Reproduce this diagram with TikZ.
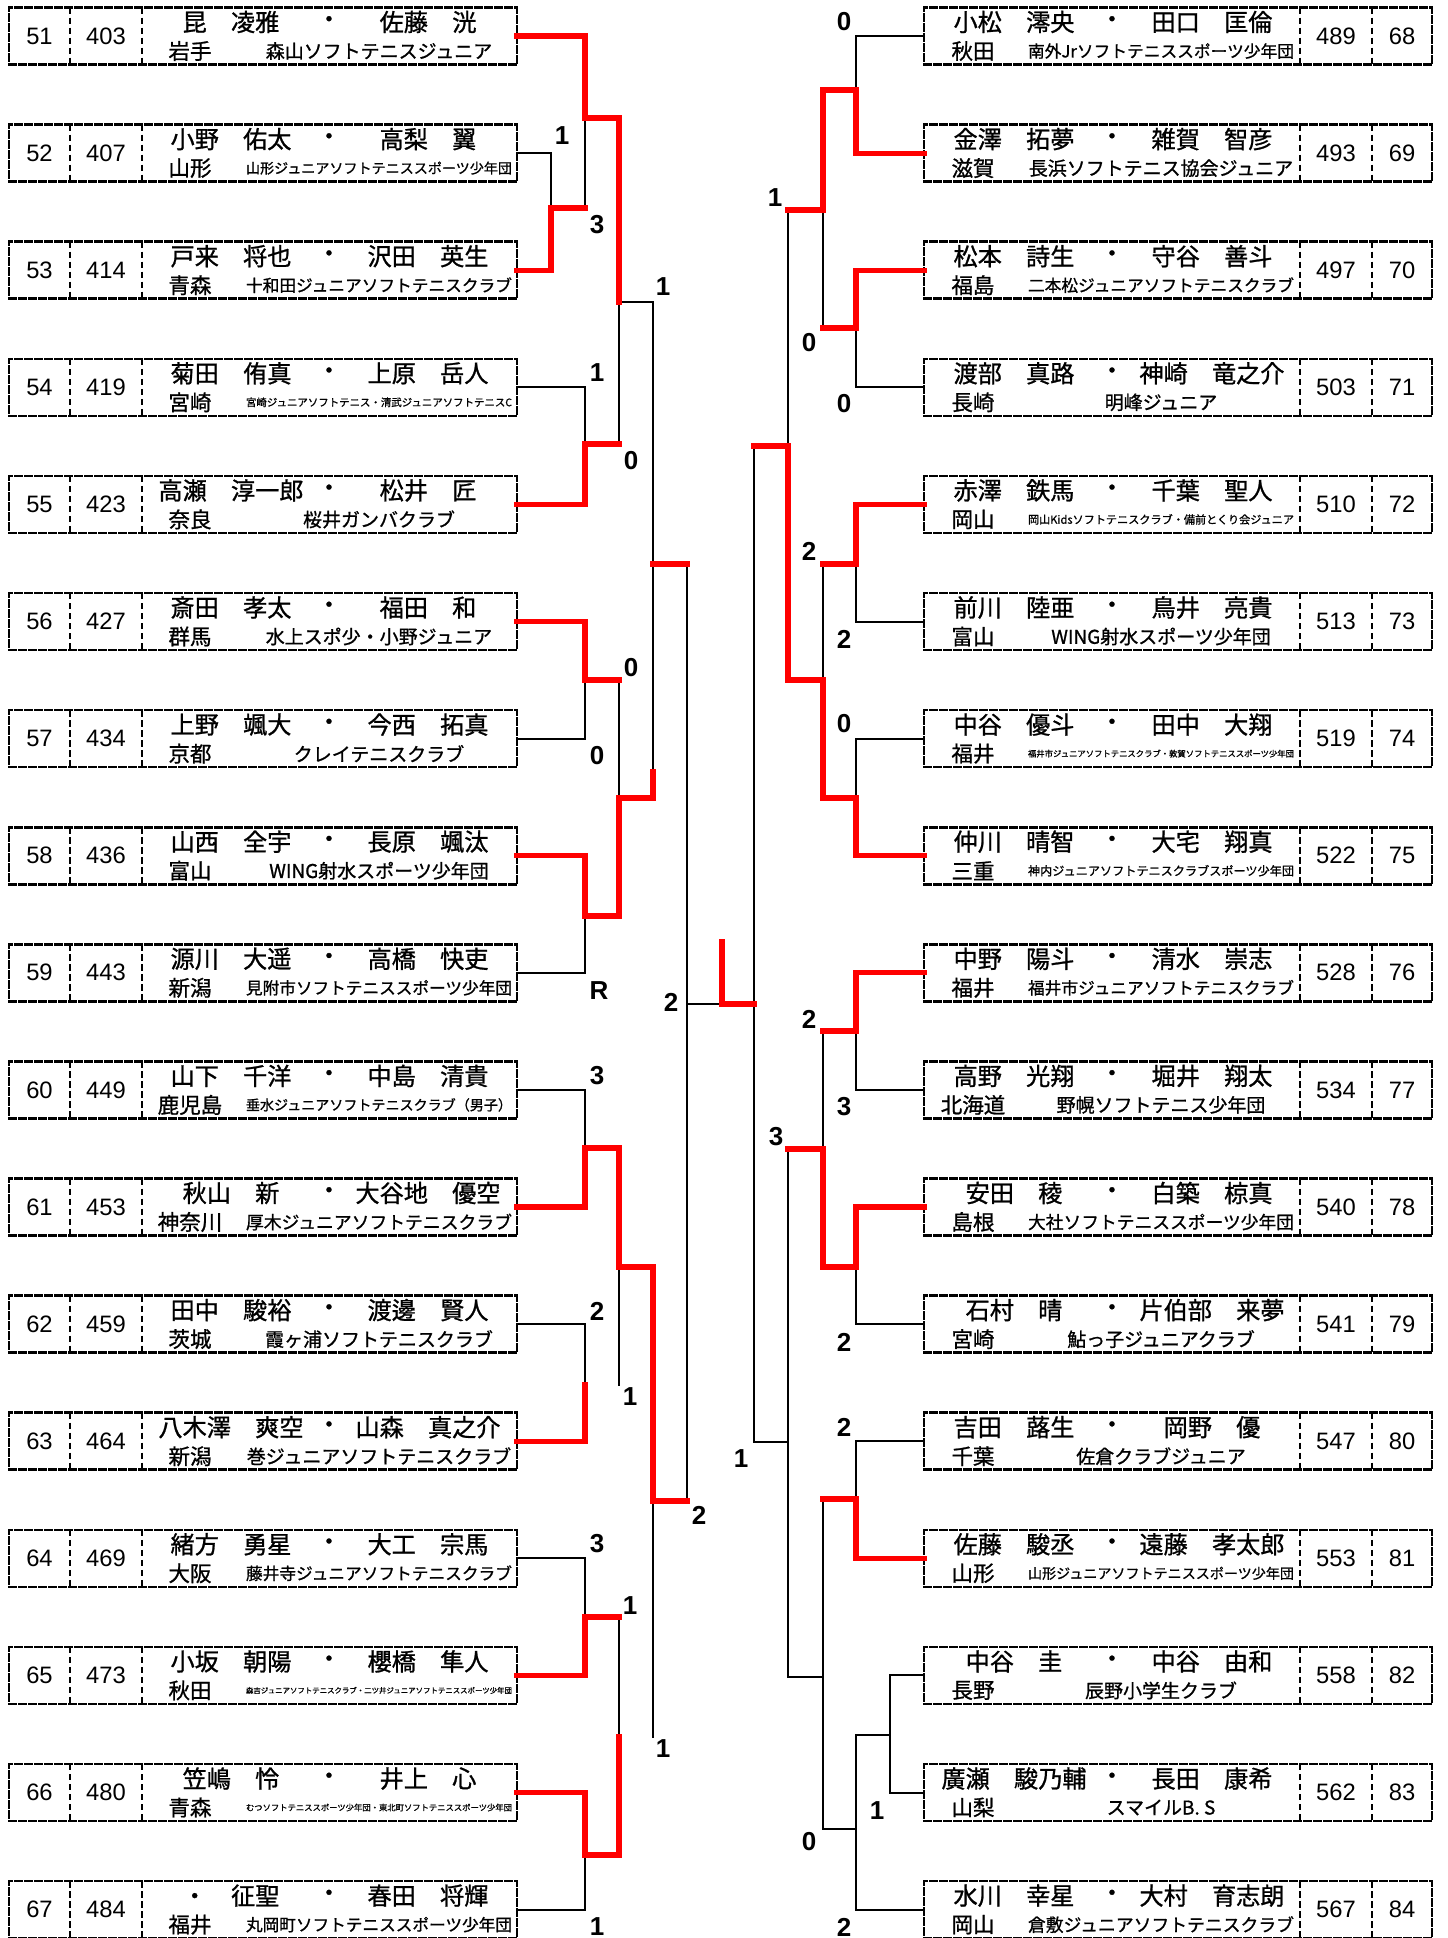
\documentclass[tikz,border=0pt]{standalone}
\usepackage{fontspec}
\usepackage{graphicx}
\setmainfont{Liberation Sans}
\newfontfamily\jp[FakeBold=1]{Noto Sans CJK JP}
\definecolor{winred}{RGB}{255,0,0}

% club names shrink to fit their field
\newsavebox\clubsb
\newdimen\clubmax \clubmax=66.5mm
\newcommand{\fitclub}[1]{\sbox\clubsb{\jp\fontsize{13.5pt}{14pt}\selectfont #1}%
  \ifdim\wd\clubsb>\clubmax\resizebox{\clubmax}{!}{\usebox\clubsb}\else\usebox\clubsb\fi}

% left entry: seed, y, id, player 1, player 2, prefecture, club
\newcommand{\lentry}[7]{%
  \node[entry] (b#1) at (263,#2) {};
  \draw[rim] ([xshift=15.25mm]b#1.north west) -- ([xshift=15.25mm]b#1.south west);
  \draw[rim] ([xshift=33.25mm]b#1.north west) -- ([xshift=33.25mm]b#1.south west);
  \node[num] (s#1) at (39.5,#2) {#1};
  \node[num] (i#1) at (106,#2) {#3};
  \node[nm] (a#1) at (231,#2-14) {#4};
  \node[nm] (d#1) at (329,#2-14) {・};
  \node[nm] (z#1) at (428,#2-14) {#5};
  \node[pref] (f#1) at (190,#2+15) {#6};
  \node[inner sep=0pt] (c#1) at (379,#2+15) {\fitclub{#7}};}

% right entry: seed, y, id, player 1, player 2, prefecture, club
\newcommand{\rentry}[7]{%
  \node[entry] (b#1) at (1178,#2) {};
  \draw[rim] ([xshift=94mm]b#1.north west) -- ([xshift=94mm]b#1.south west);
  \draw[rim] ([xshift=112mm]b#1.north west) -- ([xshift=112mm]b#1.south west);
  \node[num] (s#1) at (1402,#2) {#1};
  \node[num] (i#1) at (1336,#2) {#3};
  \node[nm] (a#1) at (1014,#2-14) {#4};
  \node[nm] (d#1) at (1112,#2-14) {・};
  \node[nm] (z#1) at (1212,#2-14) {#5};
  \node[pref] (f#1) at (973,#2+15) {#6};
  \node[inner sep=0pt] (c#1) at (1161,#2+15) {\fitclub{#7}};}

\begin{document}
\begin{tikzpicture}[x=0.25mm,y=-0.25mm,line cap=rect,
  entry/.style={draw,line width=0.65mm,dash pattern=on 1.6mm off 0.9mm,
                minimum width=127mm,minimum height=14.25mm,inner sep=0pt,outer sep=0pt},
  rim/.style={line width=0.65mm,dash pattern=on 1.6mm off 0.9mm,line cap=butt},
  lose/.style={line width=0.5mm},
  won/.style={draw=winred,line width=1.3mm},
  num/.style={font=\fontsize{16.9pt}{17pt}\selectfont,inner sep=0pt},
  nm/.style={font=\jp\fontsize{17.2pt}{18pt}\selectfont,inner sep=0pt},
  pref/.style={font=\jp\fontsize{15.3pt}{16pt}\selectfont,inner sep=0pt},
  score/.style={font=\fontsize{18.5pt}{19pt}\selectfont\bfseries,inner sep=0pt}]

  \useasboundingbox (0,0) rectangle (1448,1938);
  \clip (0,0) rectangle (1448,1938);

  % ---------- left column ----------
  \lentry{51}{36}{403}{昆　凌雅}{佐藤　洸}{岩手}{森山ソフトテニスジュニア}
  \lentry{52}{153.1}{407}{小野　佑太}{高梨　翼}{山形}{山形ジュニアソフトテニススポーツ少年団}
  \lentry{53}{270.2}{414}{戸来　将也}{沢田　英生}{青森}{十和田ジュニアソフトテニスクラブ}
  \lentry{54}{387.3}{419}{菊田　侑真}{上原　岳人}{宮崎}{宮崎ジュニアソフトテニス・清武ジュニアソフトテニスC}
  \lentry{55}{504.4}{423}{高瀬　淳一郎}{松井　匠}{奈良}{桜井ガンバクラブ}
  \lentry{56}{621.5}{427}{斎田　孝太}{福田　和}{群馬}{水上スポ少・小野ジュニア}
  \lentry{57}{738.6}{434}{上野　颯大}{今西　拓真}{京都}{クレイテニスクラブ}
  \lentry{58}{855.7}{436}{山西　全宇}{長原　颯汰}{富山}{WING射水スポーツ少年団}
  \lentry{59}{972.8}{443}{源川　大遥}{高橋　快吏}{新潟}{見附市ソフトテニススポーツ少年団}
  \lentry{60}{1089.9}{449}{山下　千洋}{中島　清貴}{鹿児島}{垂水ジュニアソフトテニスクラブ（男子）}
  \lentry{61}{1207}{453}{秋山　新}{大谷地　優空}{神奈川}{厚木ジュニアソフトテニスクラブ}
  \lentry{62}{1324.1}{459}{田中　駿裕}{渡邊　賢人}{茨城}{霞ヶ浦ソフトテニスクラブ}
  \lentry{63}{1441.2}{464}{八木澤　爽空}{山森　真之介}{新潟}{巻ジュニアソフトテニスクラブ}
  \lentry{64}{1558.3}{469}{緒方　勇星}{大工　宗馬}{大阪}{藤井寺ジュニアソフトテニスクラブ}
  \lentry{65}{1675.4}{473}{小坂　朝陽}{櫻橋　隼人}{秋田}{森吉ジュニアソフトテニスクラブ・二ツ井ジュニアソフトテニススポーツ少年団}
  \lentry{66}{1792.5}{480}{笠嶋　怜}{井上　心}{青森}{むつソフトテニススポーツ少年団・東北町ソフトテニススポーツ少年団}
  \lentry{67}{1909.6}{484}{・　征聖}{春田　将輝}{福井}{丸岡町ソフトテニススポーツ少年団}

  % ---------- right column ----------
  \rentry{68}{36}{489}{小松　澪央}{田口　匡倫}{秋田}{南外Jrソフトテニススポーツ少年団}
  \rentry{69}{153.1}{493}{金澤　拓夢}{雑賀　智彦}{滋賀}{長浜ソフトテニス協会ジュニア}
  \rentry{70}{270.2}{497}{松本　詩生}{守谷　善斗}{福島}{二本松ジュニアソフトテニスクラブ}
  \rentry{71}{387.3}{503}{渡部　真路}{神崎　竜之介}{長崎}{明峰ジュニア}
  \rentry{72}{504.4}{510}{赤澤　鉄馬}{千葉　聖人}{岡山}{岡山Kidsソフトテニスクラブ・備前とくり会ジュニア}
  \rentry{73}{621.5}{513}{前川　陸亜}{鳥井　亮貴}{富山}{WING射水スポーツ少年団}
  \rentry{74}{738.6}{519}{中谷　優斗}{田中　大翔}{福井}{福井市ジュニアソフトテニスクラブ・敦賀ソフトテニススポーツ少年団}
  \rentry{75}{855.7}{522}{仲川　晴智}{大宅　翔真}{三重}{神内ジュニアソフトテニスクラブスポーツ少年団}
  \rentry{76}{972.8}{528}{中野　陽斗}{清水　崇志}{福井}{福井市ジュニアソフトテニスクラブ}
  \rentry{77}{1089.9}{534}{高野　光翔}{堀井　翔太}{北海道}{野幌ソフトテニス少年団}
  \rentry{78}{1207}{540}{安田　稜}{白築　椋真}{島根}{大社ソフトテニススポーツ少年団}
  \rentry{79}{1324.1}{541}{石村　晴}{片伯部　来夢}{宮崎}{鮎っ子ジュニアクラブ}
  \rentry{80}{1441.2}{547}{吉田　蕗生}{岡野　優}{千葉}{佐倉クラブジュニア}
  \rentry{81}{1558.3}{553}{佐藤　駿丞}{遠藤　孝太郎}{山形}{山形ジュニアソフトテニススポーツ少年団}
  \rentry{82}{1675.4}{558}{中谷　圭}{中谷　由和}{長野}{辰野小学生クラブ}
  \rentry{83}{1792.5}{562}{廣瀬　駿乃輔}{長田　康希}{山梨}{スマイルB. S}
  \rentry{84}{1909.6}{567}{水川　幸星}{大村　育志朗}{岡山}{倉敷ジュニアソフトテニスクラブ}

  % ---------- junctions ----------
  \coordinate (q52) at (551,208);  \coordinate (q51) at (585,118);
  \coordinate (q55) at (585,444);  \coordinate (q56) at (585,680);
  \coordinate (q58) at (585,916);  \coordinate (t51) at (619,302);
  \coordinate (t56) at (619,798);  \coordinate (u51) at (653,564);
  \coordinate (w51) at (653,772);  \coordinate (v51) at (687,564);
  \coordinate (q60) at (585,1148); \coordinate (q62) at (585,1385);
  \coordinate (q64) at (585,1617); \coordinate (q66) at (585,1855);
  \coordinate (t60) at (619,1267); \coordinate (t64) at (619,1737);
  \coordinate (u60) at (653,1501); \coordinate (v60) at (687,1501);
  \coordinate (fin) at (722,1004); \coordinate (crown) at (722,942);
  \coordinate (q68) at (856,90);   \coordinate (q70) at (856,328);
  \coordinate (q72) at (856,564);  \coordinate (q74) at (856,798);
  \coordinate (t68) at (823,210);  \coordinate (t72) at (823,680);
  \coordinate (u68) at (788,446);  \coordinate (v68) at (754,446);
  \coordinate (q76) at (856,1031); \coordinate (q78) at (856,1267);
  \coordinate (q80) at (856,1499); \coordinate (q82) at (890,1735);
  \coordinate (q84) at (856,1829); \coordinate (t76) at (823,1149);
  \coordinate (t80) at (823,1677); \coordinate (u76) at (788,1442);
  \coordinate (v76) at (754,1442);

  % ---------- left bracket ----------
  \draw[lose] (b52.east) -| (q52);
  \draw[lose] (q51) -- (q51 |- q52);
  \draw[lose] (b54.east) -| (q55);
  \draw[lose] (t51) -- (t51 |- q55);
  \draw[lose] (t51) -| (w51);
  \draw[lose] (b57.east) -| (q56);
  \draw[lose] (q56 -| t56) -- (t56);
  \draw[lose] (b59.east) -| (q58);
  \draw[lose] (v51) -- (v60);
  \draw[lose] (b60.east) -| (q60);
  \draw[lose] (b62.east) -| (q62);
  \draw[lose] (t60) -- (t60 |- q62);
  \draw[lose] (u60) -- (u60 |- t64);
  \draw[lose] (b64.east) -| (q64);
  \draw[lose] (q64 -| t64) -- (t64);
  \draw[lose] (b67.east) -| (q66);
  \draw[lose] (fin -| v51) -- (fin);

  % ---------- right bracket ----------
  \draw[lose] (b68.west) -| (q68);
  \draw[lose] (t68) -- (t68 |- q70);
  \draw[lose] (b71.west) -| (q70);
  \draw[lose] (t68 -| u68) -- (u68);
  \draw[lose] (b73.west) -| (q72);
  \draw[lose] (q72 -| t72) -- (t72);
  \draw[lose] (b74.west) -| (q74);
  \draw[lose] (v68) -- (v76) -- (u76);
  \draw[lose] (q76 -| t76) -- (t76);
  \draw[lose] (b77.west) -| (q76);
  \draw[lose] (t76 -| u76) -- (u76 |- t80) -- (t80);
  \draw[lose] (b79.west) -| (q78);
  \draw[lose] (b80.west) -| (q80);
  \draw[lose] (q80 -| t80) -- (t80 |- q84) -- (q84);
  \draw[lose] (b82.west) -| (q82);
  \draw[lose] (b83.west) -| (q82);
  \draw[lose] (b84.west) -| (q82 -| q84) -- (q82);

  % ---------- winners ----------
  \draw[won] (b51.east) -| (q51) -| (t51);
  \draw[won] (b53.east) -| (q52) -- (q52 -| q51);
  \draw[won] (b55.east) -| (q55) -- (q55 -| t51);
  \draw[won] (b56.east) -| (q56) -- (q56 -| t51);
  \draw[won] (b58.east) -| (q58) -| (t56) -| (w51);
  \draw[won] (u51) -- (v51);
  \draw[won] (b61.east) -| (q60) -| (t60) -| (u60) -- (v60);
  \draw[won] (b63.east) -| (q62);
  \draw[won] (b65.east) -| (q64) -- (q64 -| t64);
  \draw[won] (b66.east) -| (q66) -| (t64);
  \draw[won] (crown) -- (fin) -- (fin -| v68);
  \draw[won] (b69.west) -| (q68) -| (t68) -- (t68 -| u68);
  \draw[won] (b70.west) -| (q70) -- (q70 -| t68);
  \draw[won] (b72.west) -| (q72) -- (q72 -| t72);
  \draw[won] (b75.west) -| (q74) -| (t72) -| (u68) -- (v68);
  \draw[won] (b76.west) -| (q76) -- (q76 -| t76);
  \draw[won] (b78.west) -| (q78) -| (t76) -- (t76 -| u76);
  \draw[won] (b81.west) -| (q80) -- (q80 -| t80);

  % ---------- scores ----------
  \node[score] (g1) at (562,136) {1};   \node[score] (g2) at (597,225) {3};
  \node[score] (g3) at (663,287) {1};   \node[score] (g4) at (597,373) {1};
  \node[score] (g5) at (631,461) {0};   \node[score] (g6) at (631,668) {0};
  \node[score] (g7) at (597,756) {0};   \node[score] (g8) at (599,991) {R};
  \node[score] (g9) at (671,1002) {2};  \node[score] (g10) at (597,1076) {3};
  \node[score] (g11) at (597,1311) {2}; \node[score] (g12) at (630,1397) {1};
  \node[score] (g13) at (699,1515) {2}; \node[score] (g14) at (597,1544) {3};
  \node[score] (g15) at (630,1606) {1}; \node[score] (g16) at (663,1749) {1};
  \node[score] (g17) at (597,1927) {1};
  \node[score] (h1) at (844,22) {0};    \node[score] (h2) at (775,198) {1};
  \node[score] (h3) at (809,343) {0};   \node[score] (h4) at (844,404) {0};
  \node[score] (h5) at (809,551) {2};   \node[score] (h6) at (844,639) {2};
  \node[score] (h7) at (844,724) {0};   \node[score] (h8) at (809,1019) {2};
  \node[score] (h9) at (844,1107) {3};  \node[score] (h10) at (776,1137) {3};
  \node[score] (h11) at (844,1342) {2}; \node[score] (h12) at (844,1427) {2};
  \node[score] (h13) at (741,1459) {1}; \node[score] (h14) at (877,1811) {1};
  \node[score] (h15) at (809,1842) {0}; \node[score] (h16) at (844,1927) {2};
\end{tikzpicture}
\end{document}
